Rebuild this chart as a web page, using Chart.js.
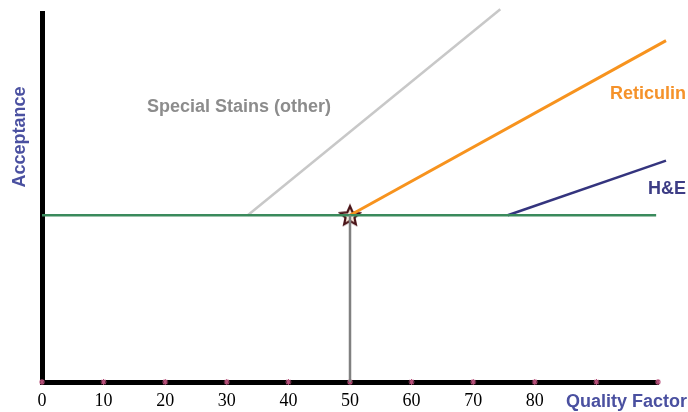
<!DOCTYPE html>
<html>
<head>
<meta charset="utf-8">
<script src="https://cdn.jsdelivr.net/npm/chart.js@4/dist/chart.umd.min.js"></script>
<style>
  html, body { margin: 0; padding: 0; background: #fff; }
  #wrap { width: 688px; height: 412px; }
</style>
</head>
<body>
<div id="wrap"><canvas id="chart"></canvas></div>
<script>
// ==========================
// DATA
// ==========================
const xTicks = [0, 10, 20, 30, 40, 50, 60, 70, 80, 90, 100];
const xLabelMax = 80; // labels past 80 are hidden behind the axis title
const baseline = [{ x: 0, y: 45.2 }, { x: 99.7, y: 45.2 }];
const specialStains = [{ x: 33.4, y: 45.2 }, { x: 74.4, y: 101 }];
const reticulin = [{ x: 50, y: 45.2 }, { x: 101.3, y: 92.5 }];
const hAndE = [{ x: 75.6, y: 45.2 }, { x: 101.3, y: 60 }];
const dropLine = [{ x: 50, y: 45.2 }, { x: 50, y: 0 }];
const starPoint = [{ x: 50, y: 45.2 }];

// ==========================
// STAR MARKER
// ==========================
function makeStar(size) {
  const c = document.createElement("canvas");
  c.width = size;
  c.height = size;
  const g = c.getContext("2d");
  const cx = size / 2, cy = size / 2 + 1;
  const R = size / 2 - 2, r = R * 0.47;
  g.beginPath();
  for (let i = 0; i < 10; i++) {
    const rad = i % 2 === 0 ? R : r;
    const a = -Math.PI / 2 + i * Math.PI / 5;
    const px = cx + rad * Math.cos(a), py = cy + rad * Math.sin(a);
    if (i === 0) g.moveTo(px, py); else g.lineTo(px, py);
  }
  g.closePath();
  const grad = g.createRadialGradient(cx, cy, 1, cx, cy, R);
  grad.addColorStop(0, "#fffaf2");
  grad.addColorStop(0.6, "#f4d8c8");
  grad.addColorStop(1, "#c08080");
  g.fillStyle = grad;
  g.fill();
  g.lineWidth = 2.2;
  g.strokeStyle = "#4a1418";
  g.stroke();
  return c;
}

// ==========================
// TEXT LABELS
// ==========================
const labelPlugin = {
  id: "labels",
  afterDraw(chart) {
    const c = chart.ctx;
    c.save();
    c.textBaseline = "middle";
    c.textAlign = "left";
    c.font = "bold 18px 'Liberation Sans', Arial, sans-serif";
    c.fillStyle = "#8c8c8c";
    c.fillText("Special Stains (other)", 147, 107);
    c.fillStyle = "#f5922a";
    c.fillText("Reticulin", 610, 94);
    c.fillStyle = "#3d3d85";
    c.fillText("H&E", 648, 189);
    c.fillStyle = "#4a50a0";
    c.fillText("Quality Factor", 566, 402);
    c.translate(20, 137);
    c.rotate(-Math.PI / 2);
    c.textAlign = "center";
    c.fillText("Acceptance", 0, 0);
    c.restore();
  }
};

// ==========================
// CHART
// ==========================
const ctx = document.getElementById("chart").getContext("2d");

function seg(data, color, width) {
  return {
    data: data,
    borderColor: color,
    borderWidth: width,
    pointRadius: 0,
    showLine: true,
    clip: false
  };
}

new Chart(ctx, {
  type: "scatter",
  data: {
    datasets: [
      seg(dropLine, "#808080", 2.5),
      seg(baseline, "#3a8a5c", 2.5),
      seg(specialStains, "#c8c8c8", 2.5),
      seg(hAndE, "#34347e", 2.5),
      seg(reticulin, "#f7931e", 3),
      {
        data: xTicks.map(v => ({ x: v, y: 0 })),
        pointStyle: "star",
        pointRadius: 3,
        borderColor: "#b8507a",
        borderWidth: 1.2,
        clip: false
      },
      {
        data: starPoint,
        pointStyle: makeStar(24),
        pointRadius: 12,
        clip: false
      }
    ]
  },
  options: {
    responsive: true,
    maintainAspectRatio: false,
    animation: false,
    layout: { padding: { top: 8, right: 30, left: 0, bottom: 0 } },
    plugins: {
      legend: { display: false },
      tooltip: { enabled: false }
    },
    scales: {
      x: {
        type: "linear",
        min: 0,
        max: 100,
        afterFit: s => { s.height = 30; },
        afterBuildTicks: s => { s.ticks = xTicks.map(v => ({ value: v })); },
        grid: { display: false },
        border: { display: true, color: "#000", width: 5 },
        ticks: {
          color: "#000",
          padding: 0,
          maxRotation: 0,
          autoSkip: false,
          font: { family: "'Liberation Serif', 'Times New Roman', serif", size: 18 },
          callback: v => (v <= xLabelMax ? String(v) : "")
        }
      },
      y: {
        type: "linear",
        min: 0,
        max: 100,
        afterFit: s => { s.width = 42; },
        grid: { display: false },
        border: { display: true, color: "#000", width: 5 },
        ticks: { display: false }
      }
    }
  },
  plugins: [labelPlugin]
});
</script>
</body>
</html>
